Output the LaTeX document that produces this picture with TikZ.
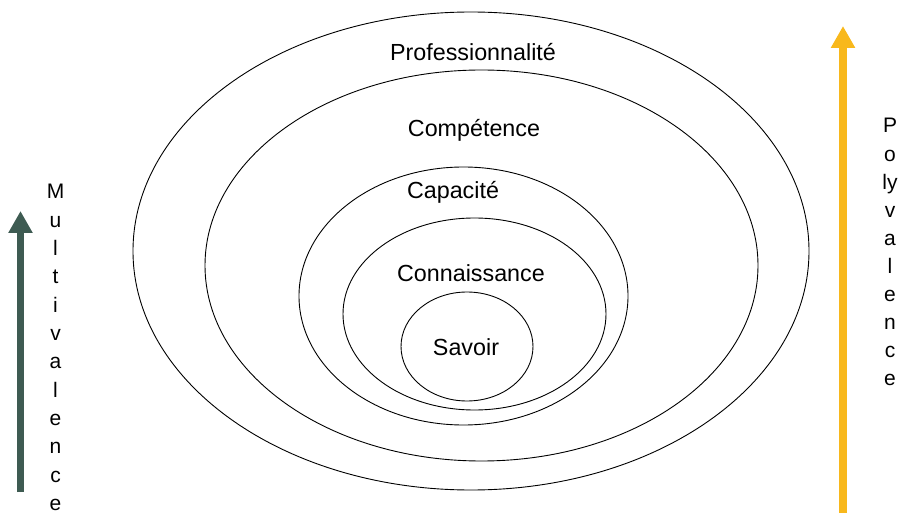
\documentclass[tikz,border=0pt]{standalone}
\usepackage{fontspec}
\setmainfont{Liberation Sans}
\usetikzlibrary{arrows.meta}
\definecolor{multigreen}{HTML}{3E5B52}
\definecolor{polyyellow}{HTML}{F8B81C}
\begin{document}
\begin{tikzpicture}[x=1pt,y=-1pt,
  ring/.style={draw=black,line width=0.9pt},
  lbl/.style={anchor=base,inner sep=0pt,font=\fontsize{23.3}{28}\selectfont},
  sideletter/.style={anchor=base,inner sep=0pt,font=\fontsize{21}{25}\selectfont},
  bigarrow/.style={line width=#1,-{Triangle[width=23pt,length=22pt]}}
]
\useasboundingbox (0,0) rectangle (900,513);
% rings
\draw[ring] (471,251) ellipse [x radius=338pt, y radius=239pt];
\draw[ring] (481.5,265.5) ellipse [x radius=276.5pt, y radius=195.5pt];
\draw[ring] (463.5,296) ellipse [x radius=164.5pt, y radius=129pt];
\draw[ring] (474.5,314) ellipse [x radius=131.5pt, y radius=96pt];
\draw[ring] (467,346.5) ellipse [x radius=66pt, y radius=54.5pt];
% labels
\node[lbl] (prof) at (473,61) {Professionnalité};
\node[lbl] (comp) at (474,137) {Compétence};
\node[lbl] (capa) at (453,199) {Capacité};
\node[lbl] (conn) at (471,282) {Connaissance};
\node[lbl] (sav) at (466,355) {Savoir};
% arrows
\coordinate (lbot) at (20.5,492);
\coordinate (ltop) at (20.5,211);
\draw[bigarrow=7pt,draw=multigreen,fill=multigreen] (lbot) -- (ltop);
\coordinate (rbot) at (843,514);
\coordinate (rtop) at (843,26);
\draw[bigarrow=8pt,draw=polyyellow,fill=polyyellow] (rbot) -- (rtop);
% side words
\foreach \ch [count=\i] in {M,u,l,t,i,v,a,l,e,n,c,e}
  \node[sideletter] (multi\i) at (55.5,{199+28.3*(\i-1)}) {\ch};
\foreach \ch [count=\i] in {P,o,ly,v,a,l,e,n,c,e}
  \node[sideletter] (poly\i) at (890,{133+28.1*(\i-1)}) {\ch};
\end{tikzpicture}
\end{document}
